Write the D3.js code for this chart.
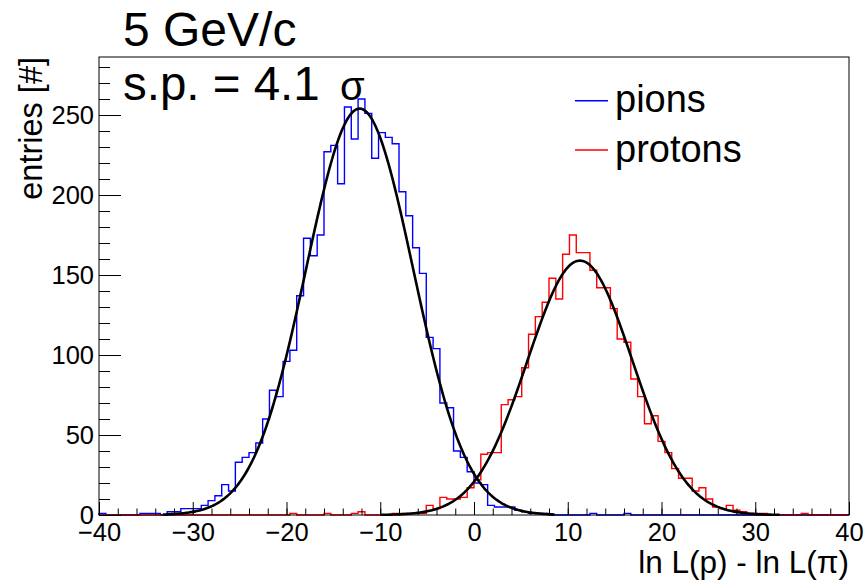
<!DOCTYPE html>
<html>
<head>
<meta charset="utf-8">
<script src="https://cdn.jsdelivr.net/npm/d3@7"></script>
<style>
  body { margin: 0; background: #fff; }
  text { font-family: "Liberation Sans", Arial, Helvetica, sans-serif; fill: #000; }
</style>
</head>
<body>
<div id="chart"></div>
<script>
// histogram binning
var xMin = -40, xMax = 40, nBins = 110;

// bin contents (110 bins from -40 to 40)
var pions = [
  1, 0, 0, 0, 0, 0, 1, 1, 1, 0,
  2, 2, 4, 4, 4, 6, 9, 12, 19, 15,
  33, 36, 39, 45, 60, 78, 74, 96, 103, 137,
  173, 162, 175, 227, 231, 207, 255, 235, 260, 251,
  223, 239, 236, 232, 202, 187, 167, 151, 111, 104,
  70, 67, 40, 36, 27, 20, 19, 6, 5, 5,
  5, 3, 2, 1, 1, 1, 0, 0, 0, 0,
  0, 0, 1, 0, 0, 0, 0, 1, 0, 0,
  0, 0, 0, 0, 0, 0, 0, 0, 0, 0,
  0, 0, 0, 0, 0, 0, 0, 0, 0, 0,
  0, 0, 0, 0, 0, 0, 0, 0, 0, 0
];
var protons = [
  0, 0, 0, 0, 0, 0, 0, 0, 0, 0,
  0, 0, 0, 0, 0, 0, 0, 0, 0, 0,
  0, 0, 0, 0, 0, 0, 0, 0, 1, 0,
  0, 0, 0, 1, 0, 0, 0, 1, 2, 0,
  0, 0, 0, 1, 1, 1, 1, 1, 6, 4,
  11, 10, 10, 11, 17, 22, 38, 39, 39, 69,
  72, 74, 92, 113, 124, 133, 148, 135, 163, 175,
  164, 164, 153, 142, 142, 129, 110, 108, 85, 74,
  57, 62, 46, 39, 29, 23, 23, 15, 17, 10,
  5, 4, 6, 3, 2, 1, 1, 1, 0, 0,
  0, 0, 0, 1, 0, 0, 0, 0, 0, 0
];

// gaussian fit parameters and fit ranges
var pionFit = { amp: 254, mean: -12.2, sigma: 5.7, from: -33.2, to: 8.6 };
var protonFit = { amp: 159, mean: 11.3, sigma: 5.6, from: -10, to: 32.6 };

var xTicks = [-40, -30, -20, -10, 0, 10, 20, 30, 40];
var yTicks = [0, 50, 100, 150, 200, 250];
var legendNames = ["pions", "protons"];

var width = 865, height = 580;
var frameL = 99, frameR = 849, frameT = 57, frameB = 515;

var svg = d3.select("#chart").append("svg")
    .attr("width", width)
    .attr("height", height);

var x = d3.scaleLinear().domain([xMin, xMax]).range([frameL, frameR]);
var y = d3.scaleLinear().domain([0, 286.25]).range([frameB, frameT]);

var binW = (xMax - xMin) / nBins;

function stepPoints(counts) {
  var pts = [[xMin, 0]];
  counts.forEach(function(c, i) { pts.push([xMin + i * binW, c]); });
  pts.push([xMax, counts[counts.length - 1]]);
  pts.push([xMax, 0]);
  return pts;
}

var histLine = d3.line()
    .x(function(d) { return x(d[0]); })
    .y(function(d) { return y(d[1]); })
    .curve(d3.curveStepAfter);

var plot = svg.append("g");

plot.append("path")
    .attr("d", histLine(stepPoints(pions)))
    .attr("fill", "none")
    .attr("stroke", "#0000ff")
    .attr("stroke-width", 1.4);

plot.append("path")
    .attr("d", histLine(stepPoints(protons)))
    .attr("fill", "none")
    .attr("stroke", "#ff0000")
    .attr("stroke-width", 1.4);

// fit curves
function gaus(f) {
  var pts = [];
  var n = 300;
  for (var i = 0; i <= n; i++) {
    var v = f.from + (f.to - f.from) * i / n;
    pts.push([v, f.amp * Math.exp(-0.5 * Math.pow((v - f.mean) / f.sigma, 2))]);
  }
  return pts;
}
var fitLine = d3.line()
    .x(function(d) { return x(d[0]); })
    .y(function(d) { return y(d[1]); })
    .curve(d3.curveLinear);

[pionFit, protonFit].forEach(function(f) {
  plot.append("path")
      .attr("d", fitLine(gaus(f)))
      .attr("fill", "none")
      .attr("stroke", "#000")
      .attr("stroke-width", 2.6)
      .attr("stroke-linejoin", "round");
});

// frame
svg.append("rect")
    .attr("x", frameL).attr("y", frameT)
    .attr("width", frameR - frameL).attr("height", frameB - frameT)
    .attr("fill", "none")
    .attr("stroke", "#000")
    .attr("stroke-width", 1);

// x axis: minor then major ticks, pointing inward
var xMinor = d3.range(xMin, xMax + 0.001, 2);
svg.append("g")
    .attr("transform", "translate(0," + frameB + ")")
    .call(d3.axisBottom(x).tickValues(xMinor).tickSizeInner(-6.5).tickSizeOuter(0).tickFormat(""))
    .call(function(g) { g.select(".domain").remove(); });

var xAxis = svg.append("g")
    .attr("transform", "translate(0," + frameB + ")")
    .call(d3.axisBottom(x).tickValues(xTicks).tickSizeInner(-13).tickSizeOuter(0).tickPadding(8)
      .tickFormat(function(d) { return d < 0 ? "\u2212" + Math.abs(d) : d; }));
xAxis.select(".domain").remove();
xAxis.selectAll("text").style("font-size", "25.5px").attr("fill", "#000");

// y axis
var yMinor = d3.range(0, 281, 10);
svg.append("g")
    .attr("transform", "translate(" + frameL + ",0)")
    .call(d3.axisLeft(y).tickValues(yMinor).tickSizeInner(-11).tickSizeOuter(0).tickFormat(""))
    .call(function(g) { g.select(".domain").remove(); });

var yAxis = svg.append("g")
    .attr("transform", "translate(" + frameL + ",0)")
    .call(d3.axisLeft(y).tickValues(yTicks).tickSizeInner(-22).tickSizeOuter(0).tickPadding(5));
yAxis.select(".domain").remove();
yAxis.selectAll("text").style("font-size", "25.5px").attr("fill", "#000");

svg.selectAll(".tick line").attr("stroke", "#000");

// axis titles
svg.append("text")
    .attr("x", frameR).attr("y", 573)
    .attr("text-anchor", "end")
    .style("font-size", "31.5px")
    .text("ln L(p) - ln L(\u03c0)");

svg.append("text")
    .attr("transform", "translate(42," + frameT + ") rotate(-90)")
    .attr("text-anchor", "end")
    .style("font-size", "32.5px")
    .text("entries [#]");

// titles
svg.append("text")
    .attr("x", 123).attr("y", 46)
    .style("font-size", "48px")
    .text("5 GeV/c");

svg.append("text")
    .attr("x", 123).attr("y", 100)
    .style("font-size", "47.5px")
    .text("s.p. = 4.1");

svg.append("text")
    .attr("x", 340).attr("y", 100)
    .style("font-size", "40px")
    .text("\u03c3");

// legend
var legendColors = ["#0000ff", "#ff0000"];
var legend = svg.append("g");
legendNames.forEach(function(name, i) {
  var ly = 100.7 + i * 49.3;
  legend.append("line")
      .attr("x1", 575).attr("x2", 608)
      .attr("y1", ly).attr("y2", ly)
      .attr("stroke", legendColors[i])
      .attr("stroke-width", 1.4);
  legend.append("text")
      .attr("x", 615).attr("y", ly + 11.5)
      .style("font-size", "38px")
      .text(name);
});
</script>
</body>
</html>
